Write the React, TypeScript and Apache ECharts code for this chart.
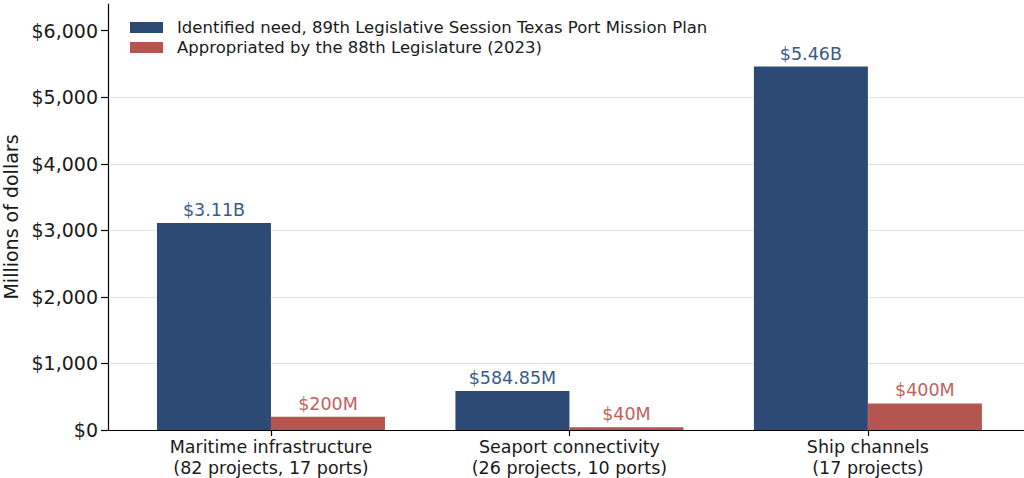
import React, { useEffect, useRef } from "react";
import * as echarts from "echarts";

const categories = [
  "Maritime infrastructure\n(82 projects, 17 ports)",
  "Seaport connectivity\n(26 projects, 10 ports)",
  "Ship channels\n(17 projects)",
];
const seriesNames = [
  "Identified need, 89th Legislative Session Texas Port Mission Plan",
  "Appropriated by the 88th Legislature (2023)",
];
const identifiedNeed = [3110, 584.85, 5460];
const appropriated = [200, 40, 400];
const identifiedLabels = ["$3.11B", "$584.85M", "$5.46B"];
const appropriatedLabels = ["$200M", "$40M", "$400M"];
const yTicks = [0, 1000, 2000, 3000, 4000, 5000, 6000];
const catPositions = [0, 1, 2];

const FONT = "DejaVu Sans";
const BLUE = "#2c4a73";
const RED = "#b5554f";

export default function App() {
  const ref = useRef<HTMLDivElement>(null);
  useEffect(() => {
    if (!ref.current) return;
    const chart = echarts.init(ref.current, null, { renderer: "svg" });
    chart.setOption({
      animation: false,
      textStyle: { fontFamily: FONT },
      legend: {
        orient: "vertical",
        left: 130,
        top: 19,
        padding: 0,
        itemWidth: 33,
        itemHeight: 11,
        itemGap: 3,
        icon: "rect",
        textStyle: { fontFamily: FONT, fontSize: 16.5, color: "#1a1a1a", padding: [0, 0, 0, 9] },
        data: seriesNames,
      },
      grid: { left: 108, right: 0, top: 4, bottom: 48, outerBoundsMode: "none", containLabel: false },
      xAxis: {
        type: "value",
        min: -0.546,
        max: 2.523,
        axisLine: { show: true, onZero: false, lineStyle: { color: "#000", width: 1.2 } },
        axisTick: { show: true, customValues: catPositions, length: 6, lineStyle: { color: "#000", width: 1.2 } },
        axisLabel: {
          customValues: catPositions,
          formatter: (v: number) => categories[Math.round(v)] ?? "",
          fontFamily: FONT,
          fontSize: 17.5,
          lineHeight: 21,
          color: "#1a1a1a",
          margin: 6,
        },
        splitLine: { show: false },
      },
      yAxis: {
        type: "value",
        min: 0,
        max: 6400,
        name: "Millions of dollars",
        nameLocation: "middle",
        nameRotate: 90,
        nameGap: 87,
        nameTextStyle: { fontFamily: FONT, fontSize: 19, color: "#1a1a1a" },
        axisLine: { show: true, onZero: false, lineStyle: { color: "#000", width: 1.2 } },
        axisTick: { show: true, customValues: yTicks, length: 7, lineStyle: { color: "#000", width: 1.2 } },
        axisLabel: {
          customValues: yTicks,
          formatter: (v: number) => "$" + v.toLocaleString("en-US"),
          fontFamily: FONT,
          fontSize: 19,
          color: "#1a1a1a",
          margin: 10,
        },
        splitLine: { show: true, showMaxLine: false, showMinLine: false, lineStyle: { color: "#e3e3e3", width: 1.2 } },
      },
      series: [
        {
          name: seriesNames[0],
          type: "bar",
          barWidth: 114,
          barGap: "0%",
          itemStyle: { color: BLUE },
          data: catPositions.map((x, i) => [x, identifiedNeed[i]]),
          label: {
            show: true,
            position: "top",
            distance: 4,
            fontFamily: FONT,
            fontSize: 17.5,
            color: "#3b5b87",
            formatter: (p: any) => identifiedLabels[p.dataIndex],
          },
        },
        {
          name: seriesNames[1],
          type: "bar",
          barWidth: 114,
          barGap: "0%",
          itemStyle: { color: RED },
          data: catPositions.map((x, i) => [x, appropriated[i]]),
          label: {
            show: true,
            position: "top",
            distance: 4,
            fontFamily: FONT,
            fontSize: 17.5,
            color: "#bf625c",
            formatter: (p: any) => appropriatedLabels[p.dataIndex],
          },
        },
      ],
    });
    return () => chart.dispose();
  }, []);
  return (
    <div
      ref={ref}
      style={{ position: "absolute", left: 0, top: 0, width: 1024, height: 478, background: "#fff" }}
    />
  );
}
